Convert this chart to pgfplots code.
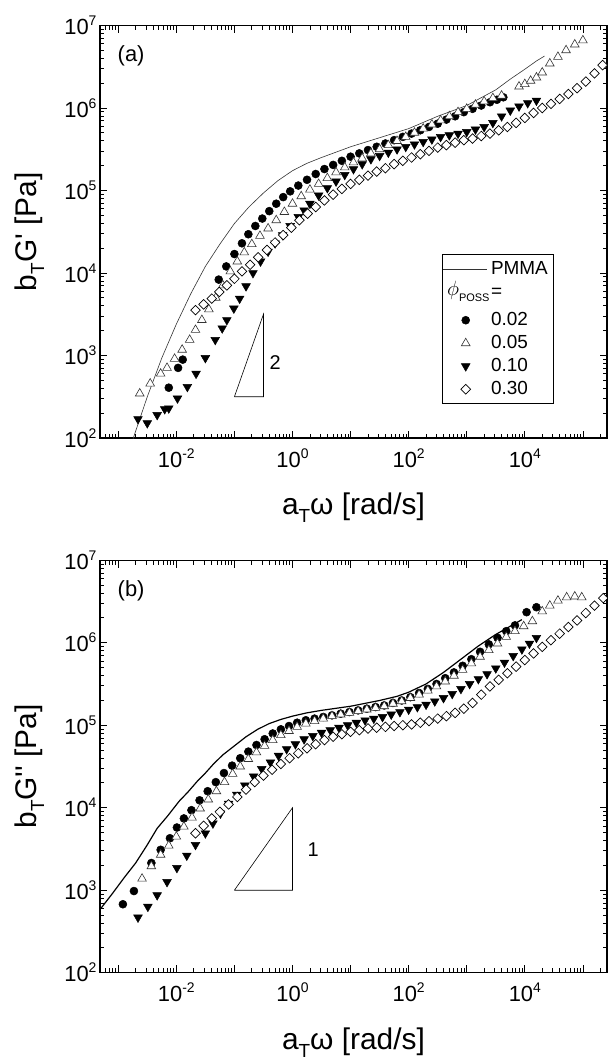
\documentclass[border=0pt]{standalone}
\usepackage{pgfplots}
\pgfplotsset{compat=1.18}
\usepackage{fontspec}
\setmainfont{Liberation Sans}
\newcommand\fs[1]{\fontsize{#1}{#1}\selectfont}
\newcommand\sups[1]{\raisebox{9bp}{\fs{14}#1}}
\newcommand\subT{\raisebox{-8bp}{\fs{19}T}}
\pgfplotsset{
  every axis/.append style={
    scale only axis, width=507bp, height=412.5bp,
    tick align=inside, xtick pos=both, ytick pos=both,
    major tick length=7.5bp, minor tick length=4.5bp,
    tick style={black, line width=0.8pt},
    axis line style={line width=1.1pt},
    tick label style={font=\fs{22}},
    xticklabel style={yshift=-7bp},
    label style={font=\fs{30}},
    xlabel style={at={(axis description cs:0.5,-0.186)}, anchor=base},
    ylabel style={at={(axis description cs:-0.126,0.5)}, anchor=base},
  },
}
\begin{document}
\begin{tikzpicture}
\path[use as bounding box] (0bp,0bp) rectangle (608bp,-1060bp);
% ---------------- panel (a)
\begin{axis}[at={(100bp,-438bp)}, anchor=south west,
  xmode=log, ymode=log,
  xmin=4.85e-4, xmax=2.6e5, ymin=1e2, ymax=1e7,
  xtick={1e-3,1e-2,1e-1,1,1e1,1e2,1e3,1e4,1e5},
  xticklabels={{},{10\sups{-2}},{},{10\sups{0}},{},{10\sups{2}},{},{10\sups{4}},{}},
  ytick={1e2,1e3,1e4,1e5,1e6,1e7},
  yticklabels={{10\sups{2}},{10\sups{3}},{10\sups{4}},{10\sups{5}},{10\sups{6}},{10\sups{7}}},
  minor xtick={5e-4,6e-4,7e-4,8e-4,9e-4,2e-3,3e-3,4e-3,5e-3,6e-3,7e-3,8e-3,9e-3,2e-2,3e-2,4e-2,5e-2,6e-2,7e-2,8e-2,9e-2,0.2,0.3,0.4,0.5,0.6,0.7,0.8,0.9,2,3,4,5,6,7,8,9,20,30,40,50,60,70,80,90,200,300,400,500,600,700,800,900,2000,3000,4000,5000,6000,7000,8000,9000,2e4,3e4,4e4,5e4,6e4,7e4,8e4,9e4,2e5},
  minor ytick={200,300,400,500,600,700,800,900,2000,3000,4000,5000,6000,7000,8000,9000,2e4,3e4,4e4,5e4,6e4,7e4,8e4,9e4,2e5,3e5,4e5,5e5,6e5,7e5,8e5,9e5,2e6,3e6,4e6,5e6,6e6,7e6,8e6,9e6},
  xlabel={a\subT ω [rad/s]},
  ylabel={b\subT G\textquotesingle{} [Pa]},
  legend cell align=left,
  legend style={at={(axis description cs:0.6746,0.446)}, anchor=north west, draw=black, line width=0.7pt,
    inner xsep=5bp, inner ysep=6bp, row sep=6bp, column sep=12bp, font=\fs{19},
    nodes={inner sep=0pt, text height=14bp, text depth=3bp}}]
\addplot[black!80, line width=0.6pt,
  legend image code/.code={\draw[black!80, line width=0.6pt, overlay] (-14.5bp,0bp) -- (29.5bp,0bp); \path (-9.5bp,0bp) (21.5bp,0bp);}]
 coordinates {(1.660e-3,79.43) (1.820e-3,100) (3.162e-3,316.2) (5.623e-3,933.3) (1e-2,2399) (1.778e-2,5623) (3.162e-2,12020) (5.623e-2,22390) (0.1,39810) (0.1778,63100) (0.3162,93330) (0.5623,1.318e5) (1,1.738e5) (1.778,2.138e5) (3.162,2.512e5) (10,3.388e5) (31.62,4.365e5) (100,5.623e5) (316.2,7.943e5) (1000,1.072e6) (3162,1.660e6) (5623,2.239e6) (1e4,2.951e6) (1.585e4,3.715e6) (2.188e4,4.266e6)};
\addlegendentry{PMMA}
\addlegendimage{legend image code/.code={\node[overlay, anchor=west, inner sep=0pt, text height=, text depth=] at (-10.5bp,0bp) {{\fs{21}$\phi$}\raisebox{-6bp}{\fs{11}POSS}}; \path (-9.5bp,-13.5bp) (21.5bp,0bp);}}
\addlegendentry{=}
\addplot[only marks, mark=*, mark size=4bp, mark options={fill=black, draw=black, line width=0.5pt}] coordinates {(7.413e-3,407.4) (1.072e-2,707.9) (1.288e-2,891.3) (5.370e-2,8318) (7.244e-2,12020) (0.1,16980) (0.1349,22910) (0.1738,29510) (0.2291,37150) (0.3020,45710) (0.3981,56230) (0.5248,69180) (0.6918,83180) (0.9120,97720) (1.259,1.148e5) (1.778,1.349e5) (2.512,1.585e5) (3.548,1.820e5) (5.012,2.042e5) (7.079,2.291e5) (10,2.570e5) (14.13,2.818e5) (19.95,3.090e5) (28.18,3.388e5) (39.81,3.715e5) (56.23,4.074e5) (79.43,4.467e5) (112.2,4.898e5) (158.5,5.370e5) (223.9,5.888e5) (316.2,6.457e5) (446.7,7.244e5) (631.0,7.943e5) (891.3,8.913e5) (1259,9.772e5) (1778,1.072e6) (2512,1.175e6) (3311,1.259e6) (4266,1.349e6)};
\addlegendentry{0.02}
\addplot[only marks, mark=triangle*, mark size=5bp, mark options={fill=white, draw=black!80, line width=0.6pt}] coordinates {(2.344e-3,346.7) (3.548e-3,457.1) (5.370e-3,602.6) (6.918e-3,707.9) (9.333e-3,912.0) (1.259e-2,1175) (1.698e-2,1549) (2.138e-2,2042) (2.754e-2,2692) (3.631e-2,3631) (4.786e-2,5012) (6.310e-2,7079) (8.511e-2,10470) (0.1122,13800) (0.1479,17780) (0.1995,22390) (0.2754,28180) (0.3802,34670) (0.5248,43650) (0.7244,54950) (1,69180) (1.413,85110) (1.995,1.023e5) (2.818,1.202e5) (3.981,1.413e5) (5.623,1.660e5) (7.943,1.905e5) (11.22,2.188e5) (15.85,2.455e5) (22.39,2.818e5) (31.62,3.162e5) (44.67,3.548e5) (63.10,3.981e5) (89.13,4.467e5) (125.9,5.012e5) (177.8,5.623e5) (251.2,6.310e5) (354.8,7.079e5) (501.2,7.943e5) (707.9,8.913e5) (1000,9.772e5) (1413,1.096e6) (1995,1.202e6) (2818,1.318e6) (3981,1.413e6) (7943,1.820e6) (1e4,1.950e6) (1.259e4,2.138e6) (1.585e4,2.344e6) (1.995e4,2.692e6) (2.692e4,3.467e6) (3.715e4,4.169e6) (5.129e4,5.012e6) (7.244e4,5.888e6) (1e5,6.607e6)};
\addlegendentry{0.05}
\addplot[only marks, mark=triangle*, mark size=5bp, mark options={rotate=180, fill=black, draw=black, line width=0.5pt}] coordinates {(2.188e-3,169.8) (3.162e-3,151.4) (4.677e-3,190.5) (6.310e-3,223.9) (7.413e-3,229.1) (1.047e-2,302.0) (1.549e-2,416.9) (2.188e-2,602.6) (3.162e-2,933.3) (4.677e-2,1549) (6.166e-2,2138) (7.413e-2,2692) (9.772e-2,3715) (0.1230,4898) (0.1585,6918) (0.2089,10000) (0.2818,13800) (0.3802,18200) (0.5012,22910) (0.6761,28840) (0.9120,37150) (1.259,47860) (1.585,57540) (1.995,69180) (2.818,87100) (3.981,1.072e5) (5.623,1.288e5) (7.943,1.549e5) (11.22,1.820e5) (15.85,2.089e5) (22.39,2.399e5) (31.62,2.630e5) (44.67,2.884e5) (63.10,3.162e5) (89.13,3.388e5) (125.9,3.631e5) (177.8,3.890e5) (251.2,4.169e5) (354.8,4.467e5) (501.2,4.677e5) (707.9,4.898e5) (1000,5.129e5) (1413,5.495e5) (1995,5.888e5) (2818,6.607e5) (3981,7.943e5) (5623,9.333e5) (7943,1.047e6) (1.122e4,1.148e6) (1.585e4,1.230e6)};
\addlegendentry{0.10}
\addplot[only marks, mark=square*, mark size=3.4bp, mark options={rotate=45, fill=white, draw=black, line width=0.7pt}] coordinates {(2.138e-2,3548) (2.951e-2,4169) (4.074e-2,4898) (5.495e-2,5888) (7.413e-2,7079) (0.1,8511) (0.1349,10470) (0.1862,12590) (0.2570,15490) (0.3631,19050) (0.5012,23440) (0.6918,28840) (0.9550,35480) (1.318,43650) (1.820,52480) (2.512,63100) (3.548,75860) (5.012,89130) (7.079,1.047e5) (10,1.202e5) (14.13,1.349e5) (19.95,1.514e5) (28.18,1.698e5) (39.81,1.862e5) (56.23,2.089e5) (79.43,2.291e5) (112.2,2.512e5) (158.5,2.754e5) (223.9,3.020e5) (316.2,3.311e5) (446.7,3.548e5) (631.0,3.802e5) (891.3,4.074e5) (1259,4.266e5) (1778,4.571e5) (2512,4.898e5) (3548,5.370e5) (5012,5.888e5) (7079,6.607e5) (1e4,7.586e5) (1.413e4,8.710e5) (1.995e4,1e6) (2.818e4,1.122e6) (3.981e4,1.288e6) (5.623e4,1.479e6) (7.943e4,1.738e6) (1.122e5,2.089e6) (1.585e5,2.630e6) (2.188e5,3.311e6) (2.818e5,3.981e6)};
\addlegendentry{0.30}
\addplot[black, line width=0.6pt, forget plot] coordinates {(0.1,316.2) (0.3162,316.2) (0.3162,3162) (0.1,316.2)};
\node[anchor=west, font=\fs{20}] at (axis cs:0.352,813) {2};
\node[anchor=west, font=\fs{22}] at (axis description cs:0.028,0.926) {(a)};
\end{axis}
% ---------------- panel (b)
\begin{axis}[at={(100bp,-972.7bp)}, anchor=south west,
  xmode=log, ymode=log,
  xmin=4.85e-4, xmax=2.6e5, ymin=1e2, ymax=1e7,
  xtick={1e-3,1e-2,1e-1,1,1e1,1e2,1e3,1e4,1e5},
  xticklabels={{},{10\sups{-2}},{},{10\sups{0}},{},{10\sups{2}},{},{10\sups{4}},{}},
  ytick={1e2,1e3,1e4,1e5,1e6,1e7},
  yticklabels={{10\sups{2}},{10\sups{3}},{10\sups{4}},{10\sups{5}},{10\sups{6}},{10\sups{7}}},
  minor xtick={5e-4,6e-4,7e-4,8e-4,9e-4,2e-3,3e-3,4e-3,5e-3,6e-3,7e-3,8e-3,9e-3,2e-2,3e-2,4e-2,5e-2,6e-2,7e-2,8e-2,9e-2,0.2,0.3,0.4,0.5,0.6,0.7,0.8,0.9,2,3,4,5,6,7,8,9,20,30,40,50,60,70,80,90,200,300,400,500,600,700,800,900,2000,3000,4000,5000,6000,7000,8000,9000,2e4,3e4,4e4,5e4,6e4,7e4,8e4,9e4,2e5},
  minor ytick={200,300,400,500,600,700,800,900,2000,3000,4000,5000,6000,7000,8000,9000,2e4,3e4,4e4,5e4,6e4,7e4,8e4,9e4,2e5,3e5,4e5,5e5,6e5,7e5,8e5,9e5,2e6,3e6,4e6,5e6,6e6,7e6,8e6,9e6},
  xlabel={a\subT ω [rad/s]},
  ylabel={b\subT G\textquotesingle\textquotesingle{} [Pa]}]
\addplot[black, line width=1.2pt] coordinates {(4.898e-4,588.8) (7.943e-4,912.0) (1.259e-3,1413) (1.995e-3,2138) (3.162e-3,3548) (4.677e-3,5623) (7.079e-3,7943) (1.122e-2,12020) (1.585e-2,15490) (2.291e-2,20890) (3.162e-2,26300) (4.365e-2,33880) (6.310e-2,43650) (0.1,56230) (0.1585,72440) (0.2512,89130) (0.3981,1.047e5) (0.6310,1.175e5) (1,1.288e5) (1.778,1.413e5) (3.162,1.514e5) (10,1.698e5) (31.62,1.995e5) (63.10,2.239e5) (100,2.512e5) (199.5,3.162e5) (398.1,4.365e5) (794.3,6.310e5) (1585,9.120e5) (3162,1.259e6) (5623,1.585e6) (8913,1.905e6)};
\addplot[only marks, mark=*, mark size=4bp, mark options={fill=black, draw=black, line width=0.5pt}] coordinates {(1.202e-3,676.1) (1.862e-3,977.2) (3.715e-3,2138) (5.370e-3,3090) (7.762e-3,4266) (1.023e-2,5754) (1.349e-2,7413) (1.820e-2,9333) (2.512e-2,12300) (3.467e-2,15850) (4.786e-2,20420) (6.607e-2,26300) (9.120e-2,32360) (0.1259,39810) (0.1738,47860) (0.2399,57540) (0.3311,67610) (0.4571,79430) (0.6310,89130) (0.8710,97720) (1.202,1.072e5) (1.698,1.148e5) (2.399,1.202e5) (3.388,1.259e5) (4.786,1.318e5) (6.761,1.380e5) (9.550,1.445e5) (13.49,1.514e5) (19.05,1.585e5) (26.92,1.660e5) (38.02,1.738e5) (53.70,1.862e5) (75.86,1.995e5) (107.2,2.188e5) (151.4,2.455e5) (213.8,2.754e5) (302.0,3.162e5) (426.6,3.715e5) (602.6,4.365e5) (851.1,5.248e5) (1202,6.310e5) (1698,7.762e5) (2399,9.550e5) (3388,1.148e6) (4786,1.380e6) (6761,1.622e6) (1.072e4,2.344e6) (1.585e4,2.692e6)};
\addplot[only marks, mark=triangle*, mark size=5bp, mark options={fill=white, draw=black!80, line width=0.6pt}] coordinates {(2.570e-3,1380) (3.715e-3,1950) (5.370e-3,2692) (7.413e-3,3467) (1e-2,4467) (1.349e-2,5888) (1.862e-2,7586) (2.570e-2,9772) (3.548e-2,12590) (4.898e-2,15850) (6.761e-2,20420) (9.333e-2,25700) (0.1259,31620) (0.1738,38900) (0.2399,46770) (0.3311,56230) (0.4571,66070) (0.6310,75860) (0.8710,85110) (1.202,95500) (1.698,1.047e5) (2.399,1.122e5) (3.388,1.202e5) (4.786,1.288e5) (6.761,1.349e5) (9.550,1.413e5) (13.49,1.479e5) (19.05,1.549e5) (26.92,1.622e5) (38.02,1.698e5) (53.70,1.820e5) (75.86,1.950e5) (107.2,2.138e5) (151.4,2.344e5) (213.8,2.630e5) (302.0,2.951e5) (426.6,3.388e5) (602.6,3.981e5) (851.1,4.677e5) (1202,5.623e5) (1698,6.761e5) (2399,8.128e5) (3388,9.772e5) (4786,1.175e6) (6761,1.380e6) (9550,1.585e6) (1.349e4,1.820e6) (1.995e4,2.399e6) (2.692e4,2.818e6) (3.715e4,3.236e6) (5.248e4,3.548e6) (7.244e4,3.631e6) (9.550e4,3.548e6)};
\addplot[only marks, mark=triangle*, mark size=5bp, mark options={rotate=180, fill=black, draw=black, line width=0.5pt}] coordinates {(2.188e-3,467.7) (3.236e-3,631.0) (4.677e-3,871.0) (6.918e-3,1259) (1.023e-2,1862) (1.514e-2,2630) (2.138e-2,3548) (3.162e-2,4898) (4.266e-2,6457) (5.754e-2,8511) (7.943e-2,11220) (0.1096,14450) (0.1514,18620) (0.2138,23990) (0.2951,29510) (0.4169,35480) (0.5754,42660) (0.7943,51290) (1.122,58880) (1.585,67610) (2.239,74130) (3.162,81280) (4.467,87100) (6.310,93330) (8.913,1e5) (12.59,1.072e5) (17.78,1.148e5) (25.12,1.202e5) (35.48,1.259e5) (50.12,1.349e5) (70.79,1.445e5) (100,1.549e5) (141.3,1.660e5) (199.5,1.778e5) (281.8,1.950e5) (398.1,2.138e5) (562.3,2.399e5) (794.3,2.754e5) (1122,3.162e5) (1585,3.631e5) (2239,4.169e5) (3162,4.898e5) (4467,5.754e5) (6310,6.918e5) (8913,8.318e5) (1.202e4,9.772e5) (1.585e4,1.148e6)};
\addplot[only marks, mark=square*, mark size=3.4bp, mark options={rotate=45, fill=white, draw=black, line width=0.7pt}] coordinates {(2.138e-2,4898) (2.951e-2,6026) (4.074e-2,7413) (5.623e-2,8913) (7.943e-2,10960) (0.1122,13490) (0.1585,16600) (0.2239,20420) (0.3162,24550) (0.4467,28840) (0.6310,33880) (0.8913,39810) (1.259,45710) (1.778,52480) (2.512,58880) (3.548,66070) (5.012,72440) (7.079,77620) (10,83180) (14.13,87100) (19.95,91200) (28.18,93330) (39.81,95500) (56.23,97720) (79.43,1e5) (112.2,1.023e5) (158.5,1.072e5) (223.9,1.122e5) (316.2,1.202e5) (446.7,1.288e5) (631.0,1.413e5) (891.3,1.585e5) (1259,1.862e5) (1778,2.344e5) (2512,2.951e5) (3548,3.548e5) (5012,4.266e5) (7079,5.129e5) (1e4,6.166e5) (1.413e4,7.413e5) (1.995e4,8.913e5) (2.818e4,1.072e6) (3.981e4,1.288e6) (5.623e4,1.549e6) (7.943e4,1.862e6) (1.122e5,2.291e6) (1.585e5,2.818e6) (2.239e5,3.467e6)};
\addplot[black, line width=0.6pt] coordinates {(0.1,1000) (1,1000) (1,10000) (0.1,1000)};
\node[anchor=west, font=\fs{20}] at (axis cs:1.585,3090) {1};
\node[anchor=west, font=\fs{22}] at (axis description cs:0.028,0.925) {(b)};
\end{axis}
\end{tikzpicture}
\end{document}
